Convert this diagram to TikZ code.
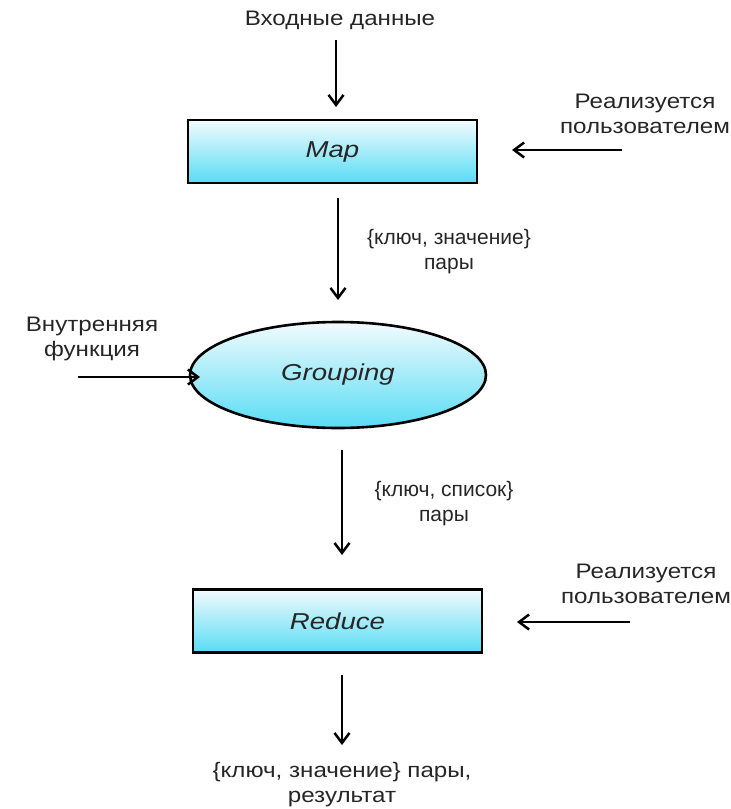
\documentclass[tikz,border=0pt]{standalone}
\usepackage{fontspec}
\setmainfont{Liberation Sans}
\usetikzlibrary{shapes.geometric,arrows.meta}
\definecolor{topc}{HTML}{F2FBFE}
\definecolor{botc}{HTML}{58DCF4}
\definecolor{txt}{HTML}{262626}
\newcommand{\wide}[1]{\scalebox{1.15}[1]{#1}}
\newcommand{\widei}[1]{\scalebox{1.2}[1]{#1}}
\tikzset{
  proc/.style={draw=black,line width=2.8pt,top color=topc,bottom color=botc,minimum width=289pt,minimum height=63pt,inner sep=0pt,font=\fontsize{23}{26}\selectfont\itshape,text=txt},
  ell/.style={ellipse,draw=black,line width=2.6pt,top color=topc,bottom color=botc,minimum width=296pt,minimum height=106pt,inner sep=0pt,font=\fontsize{23}{26}\selectfont\itshape,text=txt},
  lbl/.style={font=\fontsize{21}{25}\selectfont,text=txt,align=center,inner sep=0pt},
  arr/.style={line width=2.5pt,-{Straight Barb[length=10pt,width=15pt,line width=2.5pt]}}
}
\begin{document}
\begin{tikzpicture}[x=1pt,y=-1pt]
\useasboundingbox (0,0) rectangle (731,809);
\node[proc] (map) at (332.5,151.5) {\widei{Map}};
\node[ell] (grp) at (338,375) {\widei{Grouping}};
\node[proc] (red) at (337.5,621) {\widei{Reduce}};
\node[lbl] (in) at (340,20) {\wide{Входные данные}};
\coordinate (ina) at (336,40);
\coordinate (inb) at (336,107);
\draw[arr] (ina) -- (inb);
\node[lbl] (u1) at (645,114) {\wide{Реализуется}\\\wide{пользователем}};
\coordinate (u1a) at (622,150);
\coordinate (u1b) at (512,150);
\draw[arr] (u1a) -- (u1b);
\coordinate (m1) at (338,198);
\coordinate (m2) at (338,300);
\draw[arr] (m1) -- (m2);
\node[lbl] (kv1) at (449,252) {\{ключ, значение\}\\пары};
\node[lbl] (inner) at (92,339) {\wide{Внутренняя}\\\wide{функция}};
\coordinate (ia) at (78,377);
\coordinate (ib) at (200,377);
\draw[arr] (ia) -- (ib);
\coordinate (g1) at (342,450);
\coordinate (g2) at (342,555);
\draw[arr] (g1) -- (g2);
\node[lbl] (kl) at (444,504) {\{ключ, список\}\\пары};
\node[lbl] (u2) at (646,584) {\wide{Реализуется}\\\wide{пользователем}};
\coordinate (u2a) at (630,622);
\coordinate (u2b) at (517,622);
\draw[arr] (u2a) -- (u2b);
\coordinate (r1) at (342,675);
\coordinate (r2) at (342,745);
\draw[arr] (r1) -- (r2);
\node[lbl] (res) at (342,785) {\wide{\{ключ, значение\} пары,}\\\wide{результат}};
\end{tikzpicture}
\end{document}
